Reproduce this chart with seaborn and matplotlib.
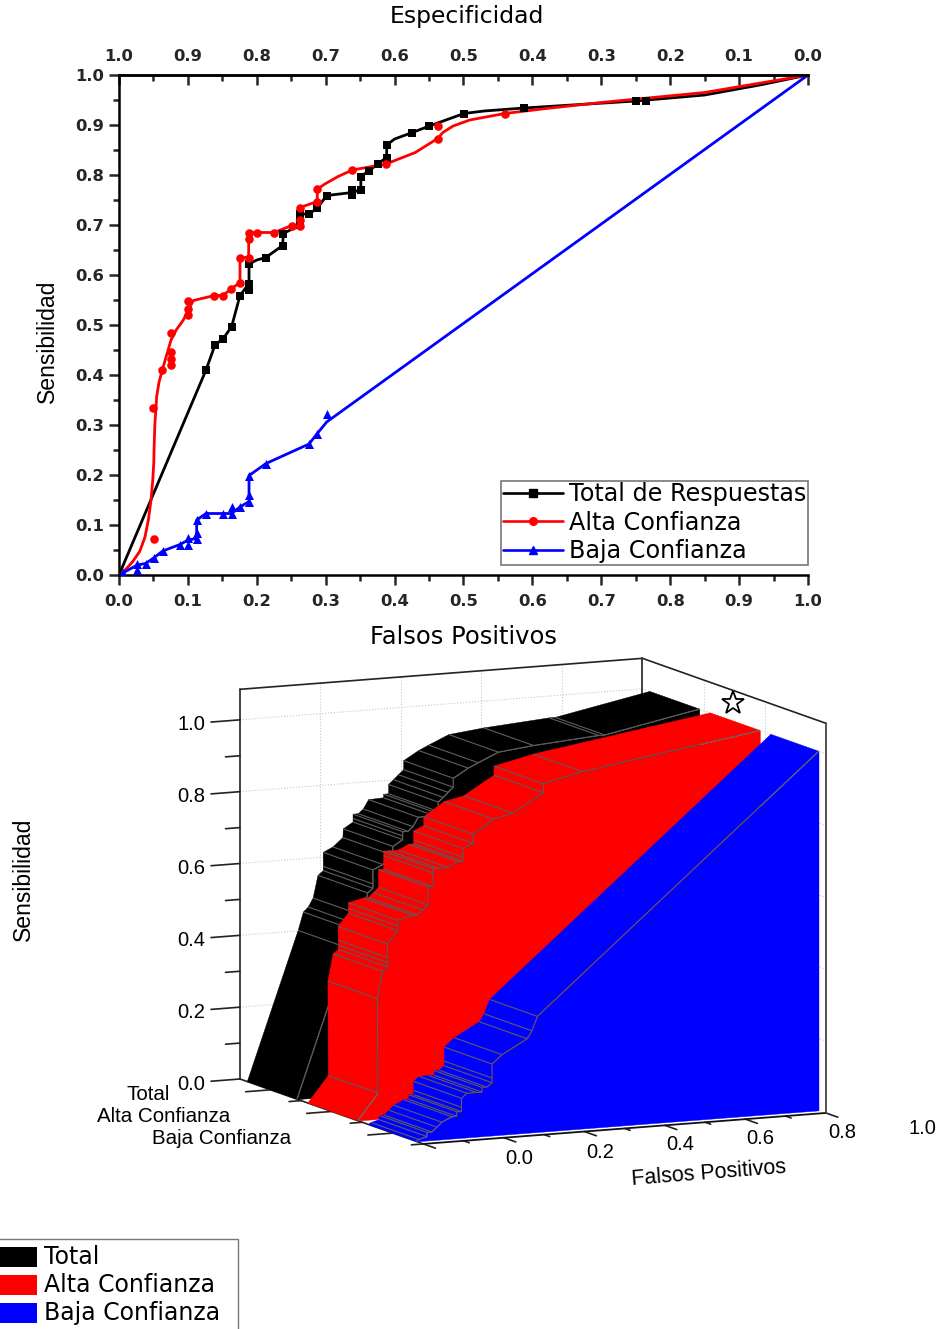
import numpy as np
import matplotlib
matplotlib.use('Agg')
import matplotlib.pyplot as plt
import seaborn as sns
from matplotlib.lines import Line2D
from matplotlib.patches import Rectangle
from mpl_toolkits.mplot3d import proj3d
from mpl_toolkits.mplot3d.art3d import Poly3DCollection, Line3DCollection

# Datos
total_x = [0.0, 0.1263, 0.1393, 0.1514, 0.1635, 0.1756, 0.1887, 0.1887, 0.1887, 0.213, 0.2375, 0.2385,
           0.2627, 0.2627, 0.2627, 0.2758, 0.288, 0.3014, 0.3387, 0.3387, 0.351, 0.351, 0.3634, 0.3754,
           0.3885, 0.3885, 0.4258, 0.4504, 0.5007, 0.588, 0.75, 0.765, 1.0]
total_y = [0.0, 0.41, 0.46, 0.473, 0.497, 0.559, 0.571, 0.583, 0.622, 0.635, 0.659, 0.683,
           0.70, 0.71, 0.722, 0.722, 0.734, 0.759, 0.761, 0.771, 0.771, 0.797, 0.809, 0.822,
           0.835, 0.86, 0.885, 0.898, 0.923, 0.934, 0.948, 0.948, 1.0]

# trazo suavizado de Total
total_line_x = [0.0, 0.1263, 0.1393, 0.1514, 0.1635, 0.1756, 0.1887, 0.1887, 0.2, 0.213, 0.2375, 0.2385,
                0.2627, 0.2627, 0.2758, 0.288, 0.3014, 0.32, 0.3387, 0.351, 0.351, 0.3634, 0.3754,
                0.3885, 0.3885, 0.4, 0.4258, 0.4504, 0.5007, 0.53, 0.588, 0.75, 0.85, 0.93, 1.0]
total_line_y = [0.0, 0.41, 0.46, 0.473, 0.497, 0.559, 0.583, 0.622, 0.63, 0.635, 0.659, 0.683,
                0.70, 0.722, 0.722, 0.734, 0.759, 0.762, 0.765, 0.771, 0.797, 0.809, 0.822,
                0.835, 0.86, 0.872, 0.885, 0.898, 0.923, 0.928, 0.934, 0.948, 0.96, 0.98, 1.0]

alta_x = [0.0, 0.0508, 0.0498, 0.0628, 0.0755, 0.0755, 0.0755, 0.075, 0.1006, 0.1006, 0.1006, 0.1384,
          0.1505, 0.1626, 0.1756, 0.1756, 0.1882, 0.1882, 0.1882, 0.2007, 0.2254, 0.2506, 0.2627,
          0.2627, 0.2627, 0.2878, 0.2878, 0.3387, 0.3875, 0.4625, 0.4625, 0.56, 1.0]
alta_y = [0.0, 0.072, 0.335, 0.41, 0.421, 0.433, 0.447, 0.485, 0.52, 0.533, 0.549, 0.559,
          0.559, 0.572, 0.585, 0.635, 0.635, 0.673, 0.685, 0.685, 0.685, 0.699, 0.699,
          0.71, 0.735, 0.747, 0.772, 0.81, 0.822, 0.873, 0.898, 0.923, 1.0]

# trazo suavizado de Alta Confianza
alta_line_x = [0.0, 0.011, 0.02, 0.03, 0.0375, 0.0426, 0.0465, 0.049, 0.0505, 0.051, 0.052, 0.0547, 0.058, 0.0628,
               0.0755, 0.083, 0.0934, 0.1006, 0.108, 0.1384, 0.1505, 0.1626, 0.1756, 0.1756, 0.1882, 0.1882,
               0.2007, 0.2254, 0.2506, 0.2627, 0.2627, 0.2878, 0.2878, 0.30, 0.318, 0.3387, 0.3875, 0.43, 0.4625,
               0.47, 0.485, 0.509, 0.56, 0.62, 0.7, 0.85, 1.0]
alta_line_y = [0.0, 0.013, 0.027, 0.047, 0.075, 0.11, 0.15, 0.19, 0.225, 0.257, 0.30, 0.357, 0.385, 0.41,
               0.47, 0.49, 0.51, 0.53, 0.549, 0.559, 0.559, 0.572, 0.585, 0.635, 0.635, 0.685,
               0.685, 0.685, 0.699, 0.699, 0.735, 0.747, 0.772, 0.783, 0.797, 0.81, 0.822, 0.845, 0.873,
               0.885, 0.898, 0.91, 0.923, 0.933, 0.945, 0.965, 1.0]

baja_x = [0.0, 0.0063, 0.0266, 0.0266, 0.0387, 0.0513, 0.0634, 0.0885, 0.1006, 0.1006, 0.1127, 0.1127,
          0.1127, 0.1263, 0.1505, 0.1635, 0.1635, 0.1756, 0.1887, 0.1887, 0.1887, 0.2134, 0.2758,
          0.2878, 0.3014, 1.0]
baja_y = [0.0, 0.005, 0.011, 0.023, 0.023, 0.035, 0.048, 0.061, 0.061, 0.074, 0.073, 0.085,
          0.11, 0.123, 0.123, 0.123, 0.136, 0.136, 0.147, 0.16, 0.199, 0.223, 0.262,
          0.283, 0.322, 1.0]

baja_line_x = [0.0, 0.0266, 0.0387, 0.0513, 0.0634, 0.0885, 0.1006, 0.1127, 0.1127, 0.1263, 0.1635, 0.1756,
               0.1887, 0.1887, 0.2134, 0.2758, 0.2878, 0.3014, 1.0]
baja_line_y = [0.0, 0.02, 0.023, 0.035, 0.048, 0.061, 0.07, 0.073, 0.11, 0.123, 0.123, 0.136,
               0.147, 0.199, 0.223, 0.262, 0.283, 0.306, 1.0]

nombres_top = ['Total de Respuestas', 'Alta Confianza', 'Baja Confianza']
nombres_3d = ['Total', 'Alta Confianza', 'Baja Confianza']
colores = ['black', 'red', 'blue']

W, H = 942, 1329

sns.set_theme(style='white')
plt.rcParams['font.family'] = ['DejaVu Sans']
plt.rcParams['axes.edgecolor'] = 'black'
plt.rcParams['text.color'] = 'black'

fig = plt.figure(figsize=(W / 100, H / 100), dpi=100)


def ftext(px, py, s, **kw):
    kw.setdefault('ha', 'center')
    kw.setdefault('va', 'center')
    return fig.text(px / W, 1 - py / H, s, **kw)


# ---- grafico ROC de arriba ----
ax = fig.add_axes([119 / W, 1 - 575 / H, 689 / W, 500 / H])

sns.lineplot(x=total_line_x, y=total_line_y, color='black', lw=2.0, sort=False, estimator=None, ax=ax)
sns.lineplot(x=alta_line_x, y=alta_line_y, color='red', lw=2.0, sort=False, estimator=None, ax=ax)
sns.lineplot(x=baja_line_x, y=baja_line_y, color='blue', lw=2.0, sort=False, estimator=None, ax=ax)
sns.scatterplot(x=total_x[1:-1], y=total_y[1:-1], color='black', marker='s', s=30, linewidth=0, ax=ax, zorder=3)
sns.scatterplot(x=alta_x[1:-1], y=alta_y[1:-1], color='red', marker='o', s=38, linewidth=0, ax=ax, zorder=3)
sns.scatterplot(x=baja_x[1:-1], y=baja_y[1:-1], color='blue', marker='^', s=42, linewidth=0, ax=ax, zorder=3)

ax.set_xlim(0, 1)
ax.set_ylim(0, 1)
ax.set_xticks(np.arange(0, 1.01, 0.1))
ax.set_yticks(np.arange(0, 1.01, 0.1))
ax.set_xticks(np.arange(0.05, 1, 0.1), minor=True)
ax.set_yticks(np.arange(0.05, 1, 0.1), minor=True)
ax.xaxis.set_major_formatter('{x:.1f}')
ax.yaxis.set_major_formatter('{x:.1f}')
ax.tick_params(which='major', direction='out', length=7, width=1.8, bottom=True, left=True,
               labelsize=11.8, pad=4)
ax.tick_params(axis='x', which='major', pad=7)
ax.tick_params(which='minor', direction='out', length=4, width=1.8, bottom=True, left=True)
for lab in ax.get_xticklabels() + ax.get_yticklabels():
    lab.set_fontweight('bold')
ax.spines['right'].set_visible(False)
for s in ['left', 'bottom', 'top']:
    ax.spines[s].set_linewidth(1.8)

top = ax.secondary_xaxis('top', functions=(lambda v: 1 - v, lambda v: 1 - v))
top.set_xticks(np.arange(0, 1.01, 0.1))
top.set_xticks(np.arange(0.05, 1, 0.1), minor=True)
top.xaxis.set_major_formatter('{x:.1f}')
top.tick_params(which='major', direction='in', length=7, width=1.8, top=True, labelsize=11.8, pad=8)
top.tick_params(which='minor', direction='in', length=4, width=1.8, top=True)
for lab in top.get_xticklabels():
    lab.set_fontweight('bold')
top.spines['top'].set_linewidth(1.8)

ftext(467, 17, 'Especificidad', fontsize=16.9)
ftext(463, 637, 'Falsos Positivos', fontsize=17.5)
ftext(47, 341, 'Sensibilidad', fontsize=16.6, rotation=90, family='Liberation Sans')

handles = [Line2D([], [], color=c, lw=1.9, marker=m, markersize=5.5)
           for c, m in zip(colores, ['s', 'o', '^'])]
leg = ax.legend(handles, nombres_top, loc='lower right', bbox_to_anchor=(1.0, 10 / 500), fontsize=17.2,
                frameon=True, fancybox=False, framealpha=1, edgecolor='#777777', handlelength=2.5,
                handletextpad=0.27, labelspacing=0.19, borderpad=0.07, borderaxespad=0)
leg.get_frame().set_linewidth(1.2)

# ---- grafico 3D de abajo ----
S0 = 900
ax3 = fig.add_axes([20 / W, 1 - 1250 / H, S0 / W, S0 / H], projection='3d')
ax3.set_proj_type('ortho')
ax3.view_init(elev=9.5, azim=-115)
ax3.set_box_aspect((445, 435, 396))
ax3.set_xlim(0, 1, view_margin=0)
ax3.set_ylim(0, 1, view_margin=0)
zmax = 1.085
ax3.set_zlim(0, zmax, view_margin=0)
ax3.set_axis_off()
ax3.patch.set_visible(False)
ax3.computed_zorder = False


def px3(x, y, z):
    ax3.apply_aspect()
    X, Y, _ = proj3d.proj_transform(x, y, z, ax3.get_proj())
    return ax3.transData.transform((X, Y))


# ajustar la caja 3D a las esquinas de la figura
a = px3(0, 1, 0)
b = px3(1, 0, 0)
escala = np.hypot(826 - 240, 1110 - 1079) / np.hypot(*(b - a))
S = S0 * escala
ax3.set_position([20 / W, 1 - 1250 / H, S / W, S / H])
a = px3(0, 1, 0)
dx = 240 - a[0]
dy = (H - 1079) - a[1]
ax3.set_position([(20 + dx) / W, (H - 1250 + dy) / H, S / W, S / H])


def linea(xs, ys, zs, c='#222222', lw=1.2, ls='-', zo=1):
    ax3.plot(xs, ys, zs, color=c, lw=lw, ls=ls, zorder=zo)


# rejilla punteada
for v in [0.2, 0.4, 0.6, 0.8]:
    linea([v, v], [1, 1], [0, zmax], c='#c8c8c8', lw=0.8, ls=':')
for v in [1 / 3, 2 / 3]:
    linea([1, 1], [v, v], [0, zmax], c='#c8c8c8', lw=0.8, ls=':')
for v in [0.2, 0.4, 0.6, 0.8, 1.0]:
    linea([0, 1, 1], [1, 1, 0], [v, v, v], c='#c8c8c8', lw=0.8, ls=':')

# caja
linea([0, 0], [1, 1], [0, zmax])
linea([0, 1, 1], [1, 1, 0], [zmax, zmax, zmax])
linea([1, 1], [1, 1], [0, zmax])
linea([0, 0], [1, 0], [0, 0])

# marcas de ejes
for v in np.arange(0, 1.01, 0.1):
    largo = 0.072 if round(v * 10) % 2 == 0 else 0.036
    linea([-largo, 0], [1, 1], [v, v])
for v in [5 / 6, 1 / 2, 1 / 6]:
    linea([-0.062, 0], [v, v], [0, 0])
for v in [2 / 3, 1 / 3, 0]:
    linea([-0.03, 0], [v, v], [0, 0])
for v in np.arange(0, 1.01, 0.1):
    largo = 0.065 if round(v * 10) % 2 == 0 else 0.03
    linea([v, v], [0, -largo], [0, 0])

# muros de cada serie
muros = [(total_x, total_y, 0.96, 0.69), (alta_x, alta_y, 0.63, 0.36), (baja_x, baja_y, 0.30, 0.04)]
gris = (0.36, 0.36, 0.36)
zo = 2
for (xs, zs, y_tras, y_frente), color in zip(muros, colores):
    tiras = []
    cortes = []
    for i in range(len(xs) - 1):
        tiras.append([(xs[i], y_tras, zs[i]), (xs[i + 1], y_tras, zs[i + 1]),
                      (xs[i + 1], y_frente, zs[i + 1]), (xs[i], y_frente, zs[i])])
        cortes.append([(xs[i + 1], y_tras, zs[i + 1]), (xs[i + 1], y_frente, zs[i + 1])])
    frente = [(xv, y_frente, zv) for xv, zv in zip(xs, zs)] + [(xs[-1], y_frente, 0)]
    ax3.add_collection3d(Poly3DCollection(tiras, facecolor=color, edgecolor=color, linewidths=0.3, zorder=zo))
    ax3.add_collection3d(Line3DCollection(cortes[:-1], colors=[gris], linewidths=0.8, zorder=zo + 0.1))
    ax3.add_collection3d(Poly3DCollection([frente], facecolor=color, edgecolor=color, linewidths=0.3, zorder=zo + 0.2))
    ax3.plot(xs, [y_frente] * len(xs), zs, color=gris, lw=0.8, zorder=zo + 0.3)
    zo += 1

# aristas delanteras
linea([0, 1], [0, 0], [0, 0], c='#111111', lw=1.3, zo=8)
linea([1, 1], [0, 0], [0, zmax], c='#444444', lw=1.3, zo=8)

# textos del 3D
for v, py in zip(['0.0', '0.2', '0.4', '0.6', '0.8', '1.0'], [1085, 1013, 941, 869, 797, 725]):
    ftext(191, py, v, fontsize=14.5, family='Liberation Sans')
for v, px, py in zip(['0.0', '0.2', '0.4', '0.6', '0.8', '1.0'],
                     [519, 600, 680, 760, 842, 922], [1159, 1152, 1145, 1139, 1133, 1128]):
    ftext(px, py, v, fontsize=14.5, family='Liberation Sans')
for t, px, py in zip(nombres_3d, [148, 164, 222], [1095, 1117, 1139]):
    ftext(px, py, t, fontsize=14.8, family='Liberation Sans')
ftext(709, 1173, 'Falsos Positivos', fontsize=15.5, rotation=4.5, family='Liberation Sans')
ftext(23, 879, 'Sensibilidad', fontsize=16.6, rotation=90, family='Liberation Sans')

# estrella
fig.add_artist(Line2D([733 / W], [1 - 703 / H], marker='*', markersize=17, markerfacecolor='white',
                      markeredgecolor='black', markeredgewidth=1.3, transform=fig.transFigure, ls=''))

# leyenda de abajo
fig.add_artist(Rectangle((-0.01, -0.01), 0.01 + 238 / W, 0.01 + 1 - 1239 / H, transform=fig.transFigure,
                         facecolor='white', edgecolor='#777777', lw=1.0))
for nombre, color, py in zip(nombres_3d, colores, [1257, 1285, 1313]):
    fig.add_artist(Rectangle((-0.01, 1 - (py + 10) / H), 0.01 + 37 / W, 20 / H, transform=fig.transFigure,
                             facecolor=color, edgecolor='none'))
    ftext(44, py, nombre, fontsize=17, ha='left')

fig.savefig('out.png', dpi=100)
